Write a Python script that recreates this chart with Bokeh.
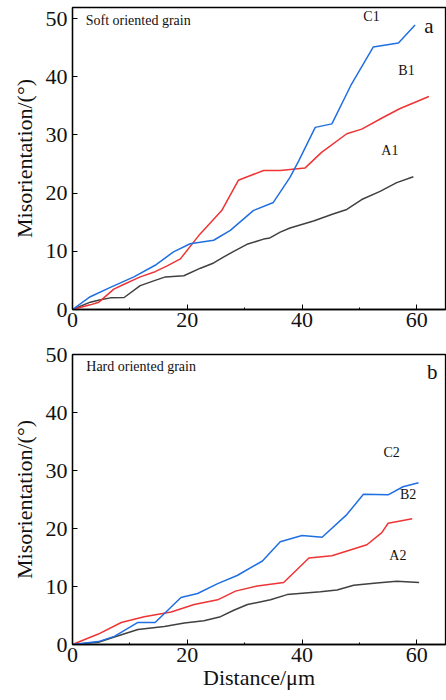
from bokeh.plotting import figure
from bokeh.models import SingleIntervalTicker, Range1d, Label
from bokeh.layouts import column
from bokeh.embed import file_html
from bokeh.resources import INLINE

# ---- data: panel a (soft oriented grain) ----
a1_x = [0, 3.1, 4.9, 6.6, 9.0, 11.8, 14.4, 16.2, 19.4, 22.3, 24.6, 26.3, 28.1, 30.4, 33.3, 34.4, 36.2, 37.9, 42.0, 45.4, 47.8, 50.4, 53.6, 56.5, 59.4]
a1_y = [0, 1.26, 1.66, 2.0, 2.06, 4.1, 5.0, 5.6, 5.8, 7.1, 8.0, 9.0, 10.0, 11.2, 12.1, 12.3, 13.3, 14.0, 15.2, 16.4, 17.2, 18.9, 20.3, 21.8, 22.8]
b1_x = [0, 3.1, 4.6, 7.2, 8.9, 11.8, 14.4, 16.5, 18.8, 22.0, 26.0, 28.9, 33.3, 36.2, 40.5, 43.4, 47.8, 50.4, 54.1, 57.0, 62.1]
b1_y = [0, 0.8, 1.26, 3.5, 4.3, 5.6, 6.5, 7.5, 8.7, 12.7, 17.0, 22.2, 23.9, 23.9, 24.3, 27.0, 30.2, 31.0, 33.0, 34.5, 36.6]
c1_x = [0, 3.1, 6.6, 10.7, 14.4, 17.6, 20.5, 24.6, 27.5, 31.5, 35.0, 37.9, 39.4, 42.3, 45.2, 48.5, 52.4, 56.8, 59.7]
c1_y = [0, 2.2, 3.8, 5.6, 7.6, 9.9, 11.3, 11.9, 13.6, 17.0, 18.4, 22.7, 25.5, 31.3, 31.9, 38.5, 45.1, 45.8, 48.9]

# ---- data: panel b (hard oriented grain) ----
a2_x = [0, 4.5, 7.3, 11.4, 16.0, 19.5, 22.9, 25.8, 28.1, 30.5, 34.5, 37.4, 43.2, 46.1, 49.0, 53.0, 56.5, 60.4]
a2_y = [0, 0.4, 1.3, 2.6, 3.1, 3.7, 4.1, 4.8, 5.9, 6.9, 7.7, 8.6, 9.1, 9.4, 10.2, 10.6, 10.9, 10.7]
b2_x = [0, 4.5, 8.5, 12.5, 17.2, 21.2, 25.3, 28.4, 32.2, 36.8, 41.2, 45.2, 48.4, 51.3, 53.9, 55.0, 59.2]
b2_y = [0, 1.8, 3.8, 4.8, 5.6, 6.9, 7.7, 9.2, 10.1, 10.7, 14.9, 15.3, 16.3, 17.2, 19.3, 20.9, 21.7]
c2_x = [0, 4.5, 7.3, 11.4, 14.4, 18.9, 21.8, 25.3, 28.7, 33.1, 36.2, 40.0, 43.5, 47.8, 50.7, 55.0, 57.6, 60.3]
c2_y = [0, 0.5, 1.4, 3.8, 3.8, 8.1, 8.8, 10.5, 11.9, 14.4, 17.7, 18.8, 18.5, 22.4, 25.9, 25.8, 27.2, 27.9]

BLUE = "#1f6fe3"
RED = "#ee3434"
GRAY = "#404040"
SERIF = "Liberation Serif"
AXFONT = "'Liberation Serif'"


def style(p, show_xlabel):
    p.xgrid.visible = False
    p.ygrid.visible = False
    p.outline_line_color = "black"
    p.outline_line_width = 1.3
    p.background_fill_color = "white"
    p.border_fill_color = "white"
    p.min_border_left = 72
    p.min_border_right = 1
    xa = p.xaxis[0]
    ya = p.yaxis[0]
    xa.ticker = SingleIntervalTicker(interval=20, num_minor_ticks=2)
    ya.ticker = SingleIntervalTicker(interval=10, num_minor_ticks=0)
    for ax in (xa, ya):
        ax.axis_line_color = "black"
        ax.axis_line_width = 1.3
        ax.major_tick_in = 5
        ax.major_tick_out = 0
        ax.minor_tick_in = 2
        ax.minor_tick_out = 0
        ax.major_tick_line_color = "black"
        ax.minor_tick_line_color = "black"
        ax.major_label_text_font = AXFONT
        ax.major_label_text_font_size = "22px"
        ax.major_label_text_font_style = "normal"
        ax.major_label_text_color = "#111111"
        ax.axis_label_text_font = AXFONT
        ax.axis_label_text_font_size = "22px"
        ax.axis_label_text_font_style = "normal"
        ax.axis_label_text_color = "#111111"
    xa.major_label_standoff = 3
    ya.major_label_standoff = 5
    ya.axis_label = "Misorientation/(°)"
    ya.axis_label_standoff = 6
    if show_xlabel:
        xa.axis_label = "Distance/μm"
        xa.axis_label_standoff = 0


def lab(p, x, y, t, size="14px", anchor="center"):
    p.add_layout(Label(x=x, y=y, text=t, text_font=SERIF, text_font_size=size,
                       text_color="#111111", text_align=anchor, text_baseline="middle"))


# ---- panel a ----
p1 = figure(width=446, height=342, output_backend="svg", toolbar_location=None,
            x_range=Range1d(0, 65), y_range=Range1d(0, 51.9))
p1.min_border_top = 7
p1.min_border_bottom = 33
style(p1, False)
p1.line(a1_x, a1_y, line_color=GRAY, line_width=1.5)
p1.line(b1_x, b1_y, line_color=RED, line_width=1.5)
p1.line(c1_x, c1_y, line_color=BLUE, line_width=1.5)
lab(p1, 2.3, 49.7, "Soft oriented grain", anchor="left")
lab(p1, 52.1, 50.3, "C1")
lab(p1, 58.2, 41.1, "B1")
lab(p1, 55.3, 27.3, "A1")
lab(p1, 62.1, 48.8, "a", size="21px")

# ---- panel b ----
p2 = figure(width=446, height=358, output_backend="svg", toolbar_location=None,
            x_range=Range1d(0, 65), y_range=Range1d(0, 50))
p2.min_border_top = 12
p2.min_border_bottom = 56
style(p2, True)
p2.line(a2_x, a2_y, line_color=GRAY, line_width=1.5)
p2.line(b2_x, b2_y, line_color=RED, line_width=1.5)
p2.line(c2_x, c2_y, line_color=BLUE, line_width=1.5)
lab(p2, 2.4, 47.9, "Hard oriented grain", anchor="left")
lab(p2, 55.6, 33.1, "C2")
lab(p2, 58.5, 25.9, "B2")
lab(p2, 56.7, 15.3, "A2")
lab(p2, 62.7, 46.9, "b", size="21px")

layout = column(p1, p2, spacing=0)
open("out.html", "w").write(file_html(layout, INLINE))
